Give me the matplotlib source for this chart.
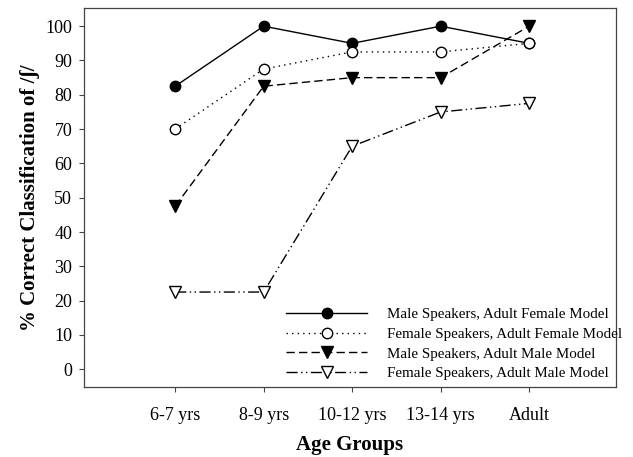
import matplotlib
matplotlib.use("Agg")
import matplotlib.pyplot as plt

plt.rcParams['font.family'] = ['Liberation Serif', 'DejaVu Serif']

age_groups = ["6-7 yrs", "8-9 yrs", "10-12 yrs", "13-14 yrs", "Adult"]
male_female_model = [82.5, 100, 95, 100, 95]
female_female_model = [70, 87.5, 92.5, 92.5, 95]
male_male_model = [47.5, 82.5, 85, 85, 100]
female_male_model = [22.5, 22.5, 65, 75, 77.5]

x = list(range(len(age_groups)))

fig = plt.figure(figsize=(6.33, 4.57), dpi=100)
ax = fig.add_axes([0.1327, 0.153, 0.973 - 0.1327, 0.9825 - 0.153])

ax.plot(x, male_female_model, color="black", lw=1.0, ls="-",
        marker="o", ms=7.5, mfc="black", mec="black",
        label="Male Speakers, Adult Female Model")
ax.plot(x, female_female_model, color="black", lw=1.0, ls=(0, (1, 3)),
        marker="o", ms=7.5, mfc="white", mec="black",
        label="Female Speakers, Adult Female Model")
ax.plot(x, male_male_model, color="black", lw=1.0, ls=(0, (6, 3)),
        marker="v", ms=8, mfc="black", mec="black",
        label="Male Speakers, Adult Male Model")
ax.plot(x, female_male_model, color="black", lw=1.0,
        ls=(0, (8, 2.5, 1, 2.5, 1, 2.5)),
        marker="v", ms=8, mfc="white", mec="black",
        label="Female Speakers, Adult Male Model")

ax.set_xlim(-1.03, 4.98)
ax.set_ylim(-5.2, 105.3)
ax.set_xticks(x)
ax.set_xticklabels(age_groups)
ax.set_yticks(range(0, 101, 10))
ax.tick_params(labelsize=13, direction="out", length=3.5, width=0.8,
               color="#444444")
ax.tick_params(axis="x", pad=11)
ax.tick_params(axis="y", pad=5)

ax.set_xlabel("Age Groups", fontsize=15, fontweight="bold", labelpad=8)
ax.set_ylabel("% Correct Classification of /ʃ/", fontsize=15,
              fontweight="bold", labelpad=4)

for side in ax.spines.values():
    side.set_linewidth(0.9)
    side.set_color("#444444")

ax.legend(loc="upper left", bbox_to_anchor=(0.38, 0.21), frameon=False,
          fontsize=10.8, handlelength=5.4, handletextpad=1.3,
          labelspacing=0.42, borderpad=0, borderaxespad=0)

fig.savefig("out.png", dpi=100)
